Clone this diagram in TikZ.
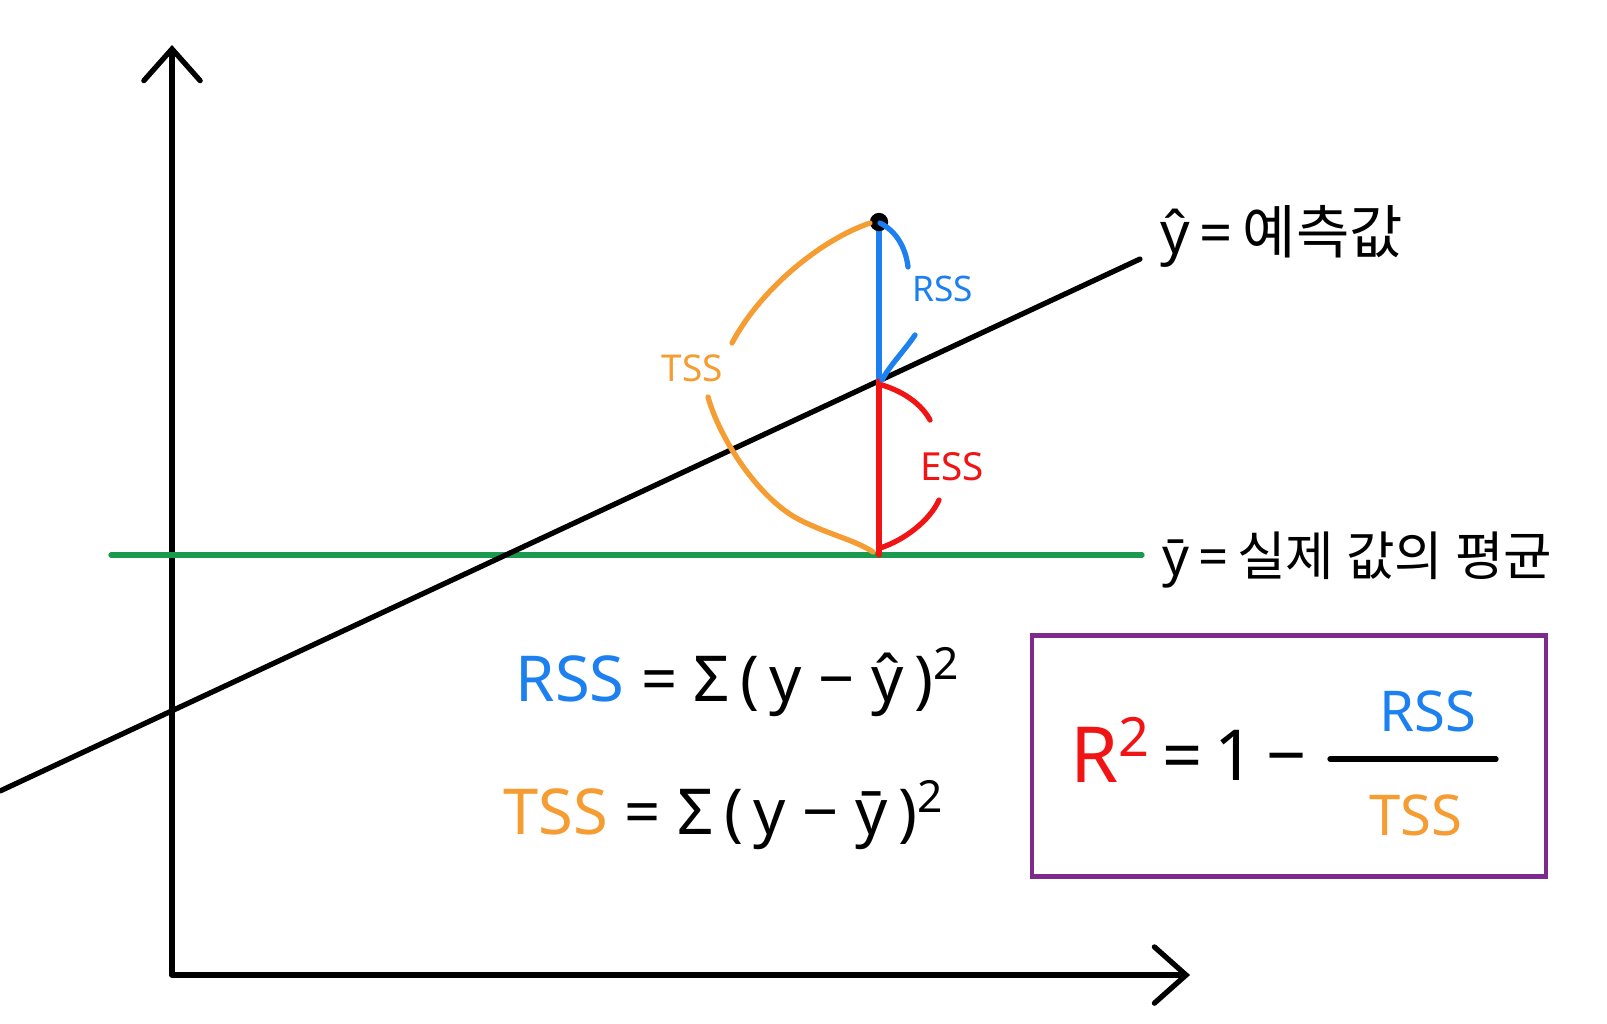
\documentclass[tikz,border=0pt]{standalone}
\usepackage{fontspec}
\setmainfont{Noto Sans}
\newfontfamily\krfont{Noto Sans CJK KR}
\usetikzlibrary{arrows.meta}
\definecolor{rssblue}{HTML}{1C80F0}
\definecolor{essred}{HTML}{F01414}
\definecolor{tssorange}{HTML}{F59C32}
\definecolor{meangreen}{HTML}{1A9A4E}
\definecolor{boxpurple}{HTML}{7E2A8C}

\begin{document}
\begin{tikzpicture}[
    x=0.01cm, y=-0.01cm,
    pen/.style={line width=1.5pt, line cap=round, line join=round},
    axis/.style={pen, -{Straight Barb[length=9pt, width=16pt, line cap=round]}},
    fitline/.style={pen, black},
    meanline/.style={pen, meangreen},
    rssmark/.style={pen, rssblue},
    essmark/.style={pen, essred},
    tssmark/.style={pen, tssorange},
    marklabel/.style={font=\fontsize{10.5}{12}\selectfont, inner sep=0pt},
    eqlabel/.style={font=\fontsize{18}{22}\selectfont, anchor=west, inner sep=0pt},
    krlabel/.style={font=\fontsize{15}{18}\selectfont, anchor=west, inner sep=0pt},
    boxlabel/.style={font=\fontsize{20}{24}\selectfont, inner sep=0pt},
    fraclabel/.style={font=\fontsize{16}{19}\selectfont, inner sep=0pt},
    r2box/.style={draw=boxpurple, line width=1.2pt,
                  minimum width=5.14cm, minimum height=2.41cm}
]
\useasboundingbox (0,0) rectangle (1607,1023);

% --- AXES ---
\coordinate (origin) at (172,975);
\coordinate (ytop) at (172,45);
\coordinate (xend) at (1190,975);
\draw[axis] (origin) -- (ytop);
\draw[axis] (origin) -- (xend);

% --- LINES ---
\coordinate (fitL) at (0,791);
\coordinate (fitR) at (1140,259);
\coordinate (meanL) at (111,555);
\coordinate (meanR) at (1142,555);
\draw[meanline] (meanL) -- (meanR);
\draw[fitline] (fitL) -- (fitR);

% --- POINT ---
\coordinate (obs) at (879,222);
\coordinate (pred) at (879,381);
\coordinate (avg) at (879,555);
\draw[rssmark] (obs) -- (pred);
\draw[essmark] (pred) -- (avg);
\fill (obs) circle (2.6pt);

% RSS
\draw[rssmark] (880,223) .. controls (898,232) and (906,250) .. (908,267);
\draw[rssmark] (915,335) .. controls (905,350) and (890,365) .. (882,380);
\node[marklabel, text=rssblue, font=\fontsize{10}{12}\selectfont] (rsslbl) at (943,289) {RSS};

% ESS
\draw[essmark] (882,385) .. controls (905,392) and (922,405) .. (930,420);
\draw[essmark] (939,500) .. controls (930,520) and (905,540) .. (880,548);
\node[marklabel, text=essred, font=\fontsize{11}{13}\selectfont] (esslbl) at (952,467) {ESS};

% TSS
\draw[tssmark] (870,223) .. controls (820,240) and (760,290) .. (732,343);
\draw[tssmark] (708,397) .. controls (720,440) and (760,500) .. (800,520)
               .. controls (830,535) and (855,540) .. (873,552);
\node[marklabel, text=tssorange] (tsslbl) at (692,368) {TSS};

% --- LABELS ---
\node[krlabel, font=\fontsize{16.5}{19}\selectfont] (fitlbl) at (1160,236) {ŷ\,=\,{\krfont 예측값}};
\node[krlabel] (meanlbl) at (1162,560) {ȳ\,=\,{\krfont 실제 값의 평균}};

% --- EQUATIONS ---
\node[eqlabel] (rsseq) at (515,682)
    {{\color{rssblue}RSS} = Σ\,(\,y − ŷ\,)\textsuperscript{2}};
\node[eqlabel] (tsseq) at (503,815)
    {{\color{tssorange}TSS} = Σ\,(\,y − ȳ\,)\textsuperscript{2}};

% --- R2 BOX ---
\node[r2box] (box) at (1289,756) {};
\node[boxlabel, anchor=west, text=essred, font=\fontsize{22}{26}\selectfont] (rsq) at (1070,750) {R\textsuperscript{2}};
\node[boxlabel, anchor=west] (one) at (1162,755) {=\,1\,−};
\coordinate (barL) at (1330,759);
\coordinate (barR) at (1496,759);
\draw[pen] (barL) -- (barR);
\node[fraclabel, text=rssblue] (num) at (1428,711) {RSS};
\node[fraclabel, text=tssorange] (den) at (1416,815) {TSS};

\end{tikzpicture}
\end{document}
